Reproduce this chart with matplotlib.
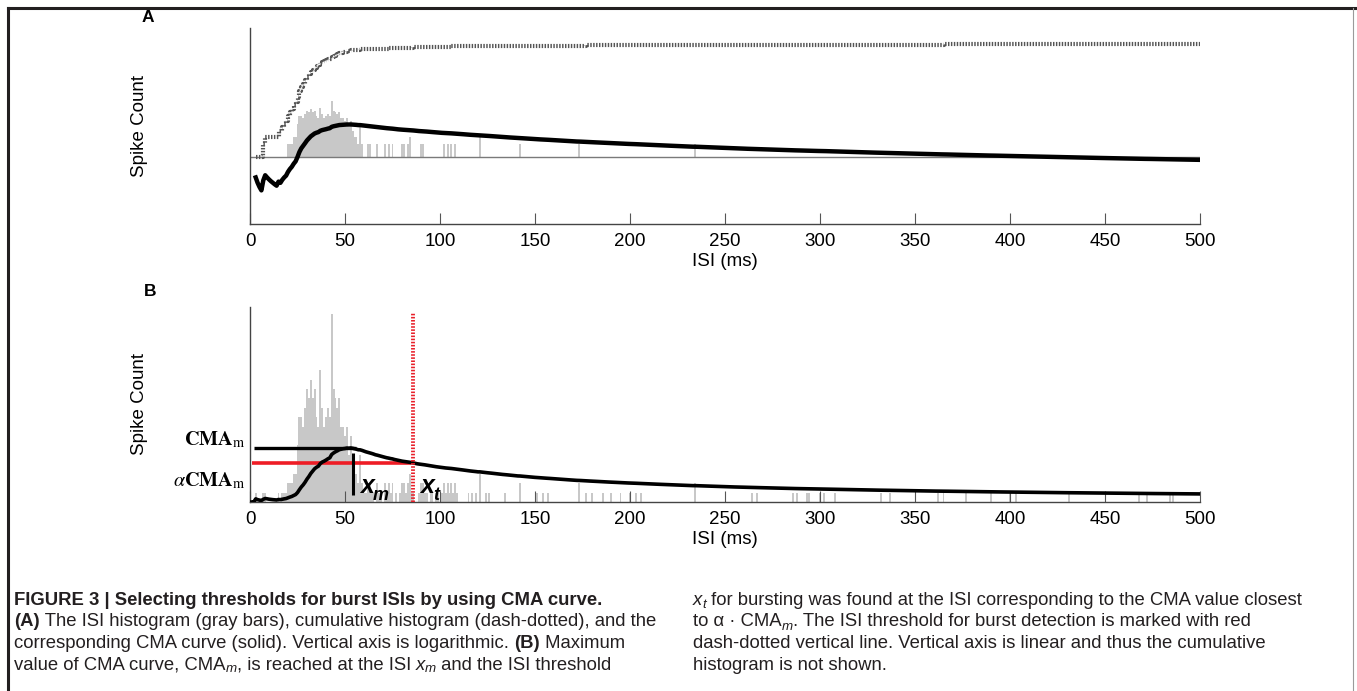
import numpy as np
import matplotlib
matplotlib.use("Agg")
import matplotlib.pyplot as plt
from matplotlib.lines import Line2D
from matplotlib.ticker import NullLocator
from matplotlib import font_manager

# 圖片尺寸（像素）
W, H = 1357, 691

# --- 數據：ISI 直方圖（每格 1 ms） ---
# ISI 1..110 ms 的 spike 數
counts_head = [
    0, 0, 1, 0, 0, 0, 1, 1, 0, 0,       # 1-10
    0, 0, 0, 0, 1, 0, 1, 1, 1, 2,       # 11-20
    2, 2, 3, 3, 6, 9, 9, 8, 10, 12,     # 21-30
    11, 13, 11, 12, 9, 8, 14, 10, 8, 9,  # 31-40
    10, 9, 20, 12, 11, 10, 11, 8, 8, 7,  # 41-50
    8, 5, 7, 4, 3, 3, 2, 5, 2, 1,        # 51-60
    1, 2, 2, 1, 1, 0, 2, 1, 1, 0,        # 61-70
    2, 1, 2, 1, 2, 0, 1, 0, 1, 2,        # 71-80
    2, 1, 2, 3, 1, 1, 0, 0, 1, 2,        # 81-90
    2, 1, 1, 0, 1, 1, 0, 1, 1, 0,        # 91-100
    1, 2, 1, 2, 1, 2, 1, 2, 1, 0,        # 101-110
]
# 110 ms 以後零星的 ISI
tail_isi = [115, 117, 119, 121, 124, 126, 134, 142,
            151, 154, 157, 173,
            177, 180, 186, 190, 195, 200, 203, 206,
            234, 264, 267, 286, 288, 293, 294, 300, 302, 308,
            332, 337, 362, 365, 377, 390, 400, 403,
            431, 468, 472, 484, 486]
tail_counts = [1, 1, 1, 3, 1, 1, 1, 2,
               1, 1, 1, 2,
               1, 1, 1, 1, 1, 1, 1, 1,
               2, 1, 1, 1, 1, 1, 1, 1, 1, 1,
               1, 1, 1, 1, 1, 1, 1, 1,
               1, 1, 1, 1, 1]
alpha = 0.72
x_ticks = list(range(0, 501, 50))

# 組合直方圖，計算累積直方圖與 CMA
n_bins = 500
isi = np.arange(1, n_bins + 1)
hist = np.zeros(n_bins)
hist[:len(counts_head)] = counts_head
hist[np.array(tail_isi) - 1] = tail_counts
cum = np.cumsum(hist)
cma = cum / isi

i_m = int(np.argmax(cma))
x_m, cma_m = isi[i_m], cma[i_m]
i_t = i_m + int(np.argmin(np.abs(cma[i_m:] - alpha * cma_m)))
x_t = isi[i_t]

# --- 字體 ---
plt.rcParams['font.family'] = ['Liberation Sans', 'DejaVu Sans']
plt.rcParams['mathtext.fontset'] = 'stix'
names = {f.name for f in font_manager.fontManager.ttflist}
cap_family = ['Liberation Sans Narrow'] if 'Liberation Sans Narrow' in names else []
cap_family += ['Liberation Sans', 'DejaVu Sans']

fig = plt.figure(figsize=(W / 100, H / 100), dpi=100)
renderer = fig.canvas.get_renderer()


def px_box(l, t, r, b):
    return [l / W, 1 - b / H, (r - l) / W, (b - t) / H]


axA = fig.add_axes(px_box(250, 28, 1200, 224))
axB = fig.add_axes(px_box(250, 307, 1200, 502))

bar_color = '#c8c8c8'
axis_color = '#444444'
lab_size = 13.5

for ax in (axA, axB):
    for s in ('top', 'right'):
        ax.spines[s].set_visible(False)
    for s in ('left', 'bottom'):
        ax.spines[s].set_color(axis_color)
        ax.spines[s].set_linewidth(1)
    ax.set_xlim(0, 500)
    ax.set_xticks(x_ticks)
    ax.tick_params(axis='x', direction='in', length=8, color='#555555',
                   labelsize=lab_size, pad=6.5)
    ax.set_yticks([])
    ax.yaxis.set_minor_locator(NullLocator())
    ax.set_xlabel('ISI (ms)', fontsize=lab_size, labelpad=2)
    ax.set_ylabel('Spike Count', fontsize=lab_size)
    ax.yaxis.set_label_coords(-102 / 950, 0.5)

# --- A：對數縱軸 ---
axA.set_yscale('log')
axA.set_ylim(10 ** -1.562, 10 ** 3.007)
axA.yaxis.set_minor_locator(NullLocator())
axA.set_yticks([])
axA.bar(isi, np.maximum(hist - 1, 0), bottom=1, width=1.0,
        color=bar_color, edgecolor='none', zorder=1)
axA.axhline(1, color='#7a7a7a', lw=1, zorder=2)
ok = cum > 0
axA.plot(isi[ok], cum[ok], color='#555555', lw=3, ls=(0, (0.35, 0.35)),
         drawstyle='steps-post', zorder=3)
axA.plot(isi[ok], cma[ok], color='black', lw=3.2, zorder=4)

# --- B：線性縱軸 ---
axB.set_ylim(0, 20.7)
axB.bar(isi, hist, width=1.0, color=bar_color, edgecolor='none', zorder=1)
axB.hlines(cma_m, 2, x_m + 3, color='black', lw=2.4, zorder=3)
axB.hlines(alpha * cma_m, 1, x_t - 1.5, color='#ee1c25', lw=2.6, zorder=3)
axB.plot(isi, cma, color='black', lw=2.6, zorder=4)
axB.vlines(x_m + 1, 0.13 * cma_m, 0.9 * cma_m, color='black', lw=2.2, zorder=4)
axB.axvline(x_t, ymax=0.97, color='#e8202a', lw=2.8, ls=(0, (0.4, 0.4)), zorder=5)

axB.annotate(r'$\mathbf{CMA}_{\mathrm{m}}$', xy=(0, cma_m), xytext=(-5, 8),
             textcoords='offset pixels', ha='right', va='center', fontsize=14.5,
             annotation_clip=False)
axB.annotate(r'$\alpha\mathbf{CMA}_{\mathrm{m}}$', xy=(0, alpha * cma_m), xytext=(-5, -18),
             textcoords='offset pixels', ha='right', va='center', fontsize=14.5,
             annotation_clip=False)
for xv, sub in ((x_m + 1, 'm'), (x_t, 't')):
    axB.annotate('x', xy=(xv, 0), xytext=(7, 9), textcoords='offset pixels',
                 ha='left', va='baseline', fontsize=18, weight='bold', style='italic')
    axB.annotate(sub, xy=(xv, 0), xytext=(20, 2), textcoords='offset pixels',
                 ha='left', va='baseline', fontsize=13, weight='bold', style='italic')

# 面板字母
fig.text(148 / W, 1 - 18 / H, 'A', ha='center', va='center', weight='bold', size=12.5)
fig.text(150 / W, 1 - 291 / H, 'B', ha='center', va='center', weight='bold', size=12.5)

# 外框
fig.add_artist(Line2D([8 / W, 8 / W], [0, 1 - 8 / H], color='#231f20', lw=2.2))
fig.add_artist(Line2D([8 / W, 1], [1 - 8 / H, 1 - 8 / H], color='#231f20', lw=2.2))
fig.add_artist(Line2D([1353 / W, 1353 / W], [0, 1 - 8 / H], color='#9a9a9a', lw=0.8))


# --- 圖說 ---
def width_of(s, **kw):
    t1 = fig.text(0, 0, '|' + s + '|', **kw)
    t2 = fig.text(0, 0, '||', **kw)
    w = t1.get_window_extent(renderer).width - t2.get_window_extent(renderer).width
    t1.remove()
    t2.remove()
    return w


line2 = '(A) The ISI histogram (gray bars), cumulative histogram (dash-dotted), and the'
cap_size = 10 * 646 / width_of(line2, family=cap_family, size=10)

styles = {
    'n': dict(size=cap_size),
    'b': dict(size=cap_size, weight='bold'),
    'i': dict(size=cap_size, style='italic'),
    's': dict(size=cap_size * 0.72, style='italic'),
}

left_lines = [
    [('FIGURE 3 | Selecting thresholds for burst ISIs by using CMA curve.', 'b')],
    [('(A)', 'b'), (' The ISI histogram (gray bars), cumulative histogram (dash-dotted), and the', 'n')],
    [('corresponding CMA curve (solid). Vertical axis is logarithmic. ', 'n'), ('(B)', 'b'),
     (' Maximum', 'n')],
    [('value of CMA curve, CMA', 'n'), ('m', 's'), (', is reached at the ISI ', 'n'), ('x', 'i'),
     ('m', 's'), (' and the ISI threshold', 'n')],
]
right_lines = [
    [('x', 'i'), ('t', 's'), (' for bursting was found at the ISI corresponding to the CMA value closest', 'n')],
    [('to \u03b1 \u00b7 CMA', 'n'), ('m', 's'), ('. The ISI threshold for burst detection is marked with red', 'n')],
    [('dash-dotted vertical line. Vertical axis is linear and thus the cumulative', 'n')],
    [('histogram is not shown.', 'n')],
]
baselines = [605, 626.5, 648, 669.5]

for x0, lines in ((14, left_lines), (693, right_lines)):
    for yb, parts in zip(baselines, lines):
        x = x0
        for s, st in parts:
            kw = dict(styles[st], family=cap_family, color='#231f20')
            dy = 3 if st == 's' else 0
            fig.text(x / W, 1 - (yb + dy) / H, s, ha='left', va='baseline', **kw)
            x += width_of(s, **kw)

fig.savefig('out.png', dpi=100, facecolor='white')
